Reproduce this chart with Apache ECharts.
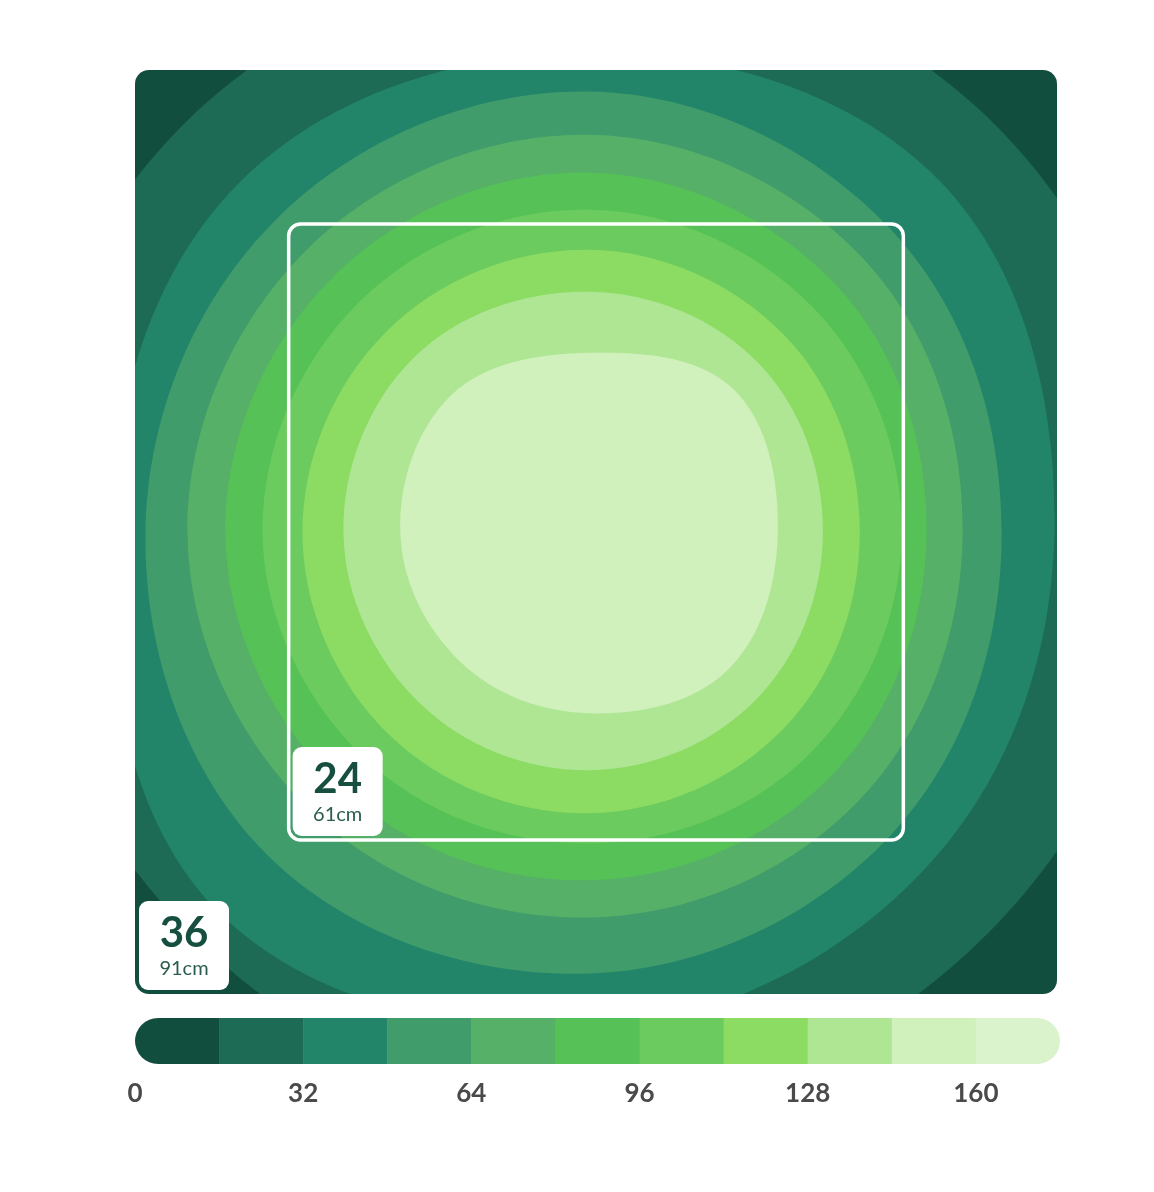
<!DOCTYPE html>
<html>
<head>
<meta charset="utf-8">
<title>PPFD map</title>
<script src="https://cdn.jsdelivr.net/npm/echarts@6/dist/echarts.min.js"></script>
<style>
  html, body { margin: 0; padding: 0; background: #fff; }
  #chart { width: 1154px; height: 1192px; }
</style>
</head>
<body>
<div id="chart"></div>
<script>
// footprint in inches, light centred a little left/up of the middle
const areaSize = 36;
const innerSize = 24;
const center = [17.73, 17.96];

// contour levels and their radius (inches) read at 8 directions:
// right, up-right, up, up-left, left, down-left, down, down-right
const angles = [0, 45, 90, 135, 180, 225, 270, 315];
const levels = [16, 32, 48, 64, 80, 96, 112, 128, 144];
const r16  = [22.43, 22.46, 22.43, 22.46, 22.43, 22.04, 22.50, 22.04];
const r32  = [18.17, 19.38, 18.72, 19.31, 18.72, 20.67, 19.31, 18.53];
const r48  = [16.11, 16.69, 17.20, 17.28, 17.32, 17.75, 17.16, 16.65];
const r64  = [14.59, 15.13, 15.52, 15.60, 15.68, 15.33, 14.98, 14.82];
const r80  = [13.18, 13.65, 14.04, 14.12, 14.20, 13.88, 13.53, 13.38];
const r96  = [12.21, 12.40, 12.60, 12.71, 12.75, 12.40, 12.09, 12.17];
const r112 = [10.57, 10.84, 11.04, 11.15, 11.19, 11.08, 10.92, 10.76];
const r128 = [9.13, 9.36, 9.40, 9.67, 9.59, 9.36, 9.24, 9.20];
const r144 = [7.37, 7.95, 7.02, 7.60, 7.37, 7.10, 7.02, 7.60];
const radii = [r16, r32, r48, r64, r80, r96, r112, r128, r144];

// legend bins
const binEdges = [0, 16, 32, 48, 64, 80, 96, 112, 128, 144, 160, 176];
const binColors = ['#124e3e', '#1d6a55', '#22856a', '#409c6a', '#56b068', '#55c157',
                   '#6bcb5e', '#8cdc64', '#aee694', '#d0f0bc', '#daf3cc'];
const tickLabels = [0, 32, 64, 96, 128, 160];

const sizeLabels = [
  { at: [0, 0], big: '36', small: '91cm' },
  { at: [(areaSize - innerSize) / 2, (areaSize - innerSize) / 2], big: '24', small: '61cm' }
];

const textColor = '#164f40';
const font = 'Lato, "Open Sans", sans-serif';

let chart = echarts.init(document.getElementById('chart'));

function contourItem(params, api) {
  let i = params.dataIndex;
  let pts = angles.map(function (a, k) {
    let t = a * Math.PI / 180;
    return api.coord([center[0] + radii[i][k] * Math.cos(t), center[1] + radii[i][k] * Math.sin(t)]);
  });
  return {
    type: 'polygon',
    shape: { points: pts, smooth: 0.37 },
    style: { fill: binColors[levels[i] / 16], stroke: null }
  };
}

let option = {
  animation: false,
  grid: [
    { left: 135, top: 70, width: 922, height: 924 },
    { left: 135, top: 1018, width: 925, height: 46 }
  ],
  xAxis: [
    { gridIndex: 0, type: 'value', min: 0, max: areaSize, show: false },
    {
      gridIndex: 1, type: 'value', min: 0, max: 176, interval: 32,
      axisLine: { show: false }, axisTick: { show: false }, splitLine: { show: false },
      axisLabel: {
        margin: 17, fontSize: 26, color: '#4a4a4a', fontFamily: font, fontWeight: 'bold',
        showMaxLabel: false,
        formatter: function (v) { return tickLabels.indexOf(v) >= 0 ? String(v) : ''; }
      }
    }
  ],
  yAxis: [
    { gridIndex: 0, type: 'value', min: 0, max: areaSize, show: false },
    { gridIndex: 1, type: 'value', min: 0, max: 1, show: false }
  ],
  series: [
    {
      // panel background (lowest bin)
      type: 'custom', xAxisIndex: 0, yAxisIndex: 0, z: 1,
      data: [[0, 0]],
      renderItem: function (params, api) {
        let a = api.coord([0, areaSize]);
        let b = api.coord([areaSize, 0]);
        return {
          type: 'rect',
          shape: { x: a[0], y: a[1], width: b[0] - a[0], height: b[1] - a[1], r: 14 },
          style: { fill: binColors[0] }
        };
      }
    },
    {
      type: 'custom', xAxisIndex: 0, yAxisIndex: 0, z: 2, clip: true,
      data: levels.map(function (l) { return [l, l]; }),
      renderItem: contourItem
    },
    {
      // 24 x 24 inner footprint
      type: 'custom', xAxisIndex: 0, yAxisIndex: 0, z: 3,
      data: [[0, 0]],
      renderItem: function (params, api) {
        let lo = (areaSize - innerSize) / 2, hi = lo + innerSize;
        let a = api.coord([lo, hi]);
        let b = api.coord([hi, lo]);
        return {
          type: 'rect',
          shape: { x: a[0], y: a[1], width: b[0] - a[0], height: b[1] - a[1], r: 12 },
          style: { fill: null, stroke: '#fff', lineWidth: 3.5 }
        };
      }
    },
    {
      // size badges
      type: 'custom', xAxisIndex: 0, yAxisIndex: 0, z: 4,
      data: sizeLabels.map(function (s) { return s.at; }),
      renderItem: function (params, api) {
        let s = sizeLabels[params.dataIndex];
        let p = api.coord(s.at);
        let x = p[0] + 4, y = p[1] - 93;
        return {
          type: 'group',
          children: [
            { type: 'rect', shape: { x: x, y: y, width: 90, height: 89, r: 9 },
              style: { fill: '#fff' } },
            { type: 'text', style: { x: x + 45, y: y + 32, text: s.big, fill: textColor,
                font: 'bold 42px ' + font, align: 'center', verticalAlign: 'middle' } },
            { type: 'text', style: { x: x + 45, y: y + 68, text: s.small, fill: '#2a5d4f',
                font: '20px ' + font, align: 'center', verticalAlign: 'middle' } }
          ]
        };
      }
    },
    {
      // colour legend bar
      type: 'custom', xAxisIndex: 1, yAxisIndex: 1,
      data: binColors.map(function (c, i) { return [binEdges[i], binEdges[i + 1]]; }),
      renderItem: function (params, api) {
        let i = params.dataIndex;
        let a = api.coord([api.value(0), 1]);
        let b = api.coord([api.value(1), 0]);
        let h = b[1] - a[1];
        let r = [0, 0, 0, 0];
        if (i === 0) r = [h / 2, 0, 0, h / 2];
        if (i === binColors.length - 1) r = [0, h / 2, h / 2, 0];
        return {
          type: 'rect',
          shape: { x: a[0], y: a[1], width: b[0] - a[0] + (i === binColors.length - 1 ? 0 : 0.5), height: h, r: r },
          style: { fill: binColors[i] }
        };
      }
    }
  ]
};

chart.setOption(option);
</script>
</body>
</html>
